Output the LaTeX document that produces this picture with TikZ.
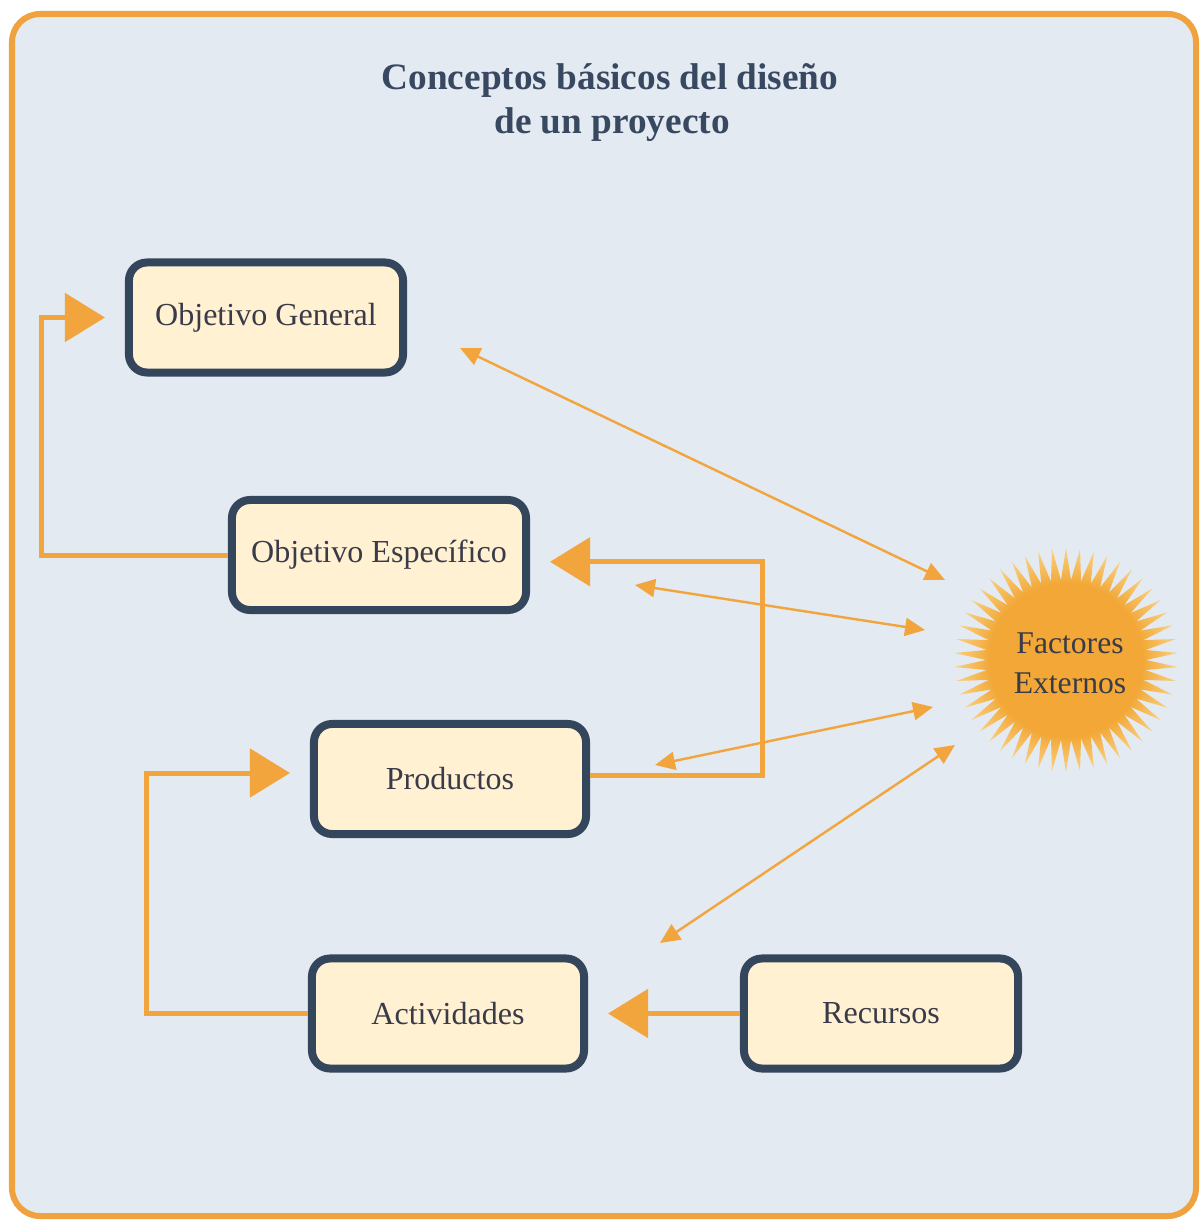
\documentclass[tikz,border=0pt]{standalone}
\usepackage{fontspec}
\setmainfont{Liberation Serif}
\usetikzlibrary{arrows.meta,shapes.geometric}
\definecolor{bgblue}{HTML}{E3EAF2}
\definecolor{frameor}{HTML}{F0A23E}
\definecolor{arrowor}{HTML}{F2A53C}
\definecolor{navy}{HTML}{34465C}
\definecolor{cream}{HTML}{FFF1D2}
\definecolor{txt}{HTML}{3A3B48}
\definecolor{titlec}{HTML}{384860}
\definecolor{sunA}{HTML}{F2A736}
\definecolor{sunB}{HTML}{FCDC96}
\pgfdeclareradialshading{sunshade}{\pgfpoint{0bp}{0bp}}{color(0bp)=(sunA); color(17bp)=(sunA); color(27bp)=(sunB); color(50bp)=(sunB)}
\begin{document}
\begin{tikzpicture}[x=0.025cm,y=-0.025cm,
  boxnode/.style={draw=navy, line width=0.2cm, fill=cream, rounded corners=0.45cm,
    minimum height=2.75cm, inner sep=0pt, text=txt,
    font=\fontsize{22.8}{27}\selectfont},
  bigarr/.style={draw=arrowor, line width=0.125cm,
    -{Triangle[length=1cm,width=1.2cm]}, shorten >=0.5cm},
  thinarr/.style={draw=arrowor, line width=0.06cm,
    {Triangle[length=0.5cm,width=0.45cm]}-{Triangle[length=0.5cm,width=0.45cm]}},
  titlenode/.style={text=titlec, font=\bfseries\fontsize{26.5}{32}\selectfont}
]
\useasboundingbox (0,0) rectangle (1200,1220);
\fill[white] (0,0) rectangle (1200,1220);
\draw[frameor, line width=0.15cm, fill=bgblue, rounded corners=0.7cm] (12,14) rectangle (1196,1216);

% title
\node[titlenode] (title1) at (610,80) {Conceptos básicos del diseño};
\node[titlenode] (title2) at (612,125) {de un proyecto};

% boxes
\node[boxnode, minimum width=6.85cm] (OG) at (266,317.5) {Objetivo General};
\node[boxnode, minimum width=7.35cm] (OE) at (379,555) {Objetivo Específico};
\node[boxnode, minimum width=6.8cm] (P) at (450,779) {Productos};
\node[boxnode, minimum width=6.8cm] (A) at (448,1013.5) {Actividades};
\node[boxnode, minimum width=6.85cm] (R) at (881,1013.5) {Recursos};

% sun
\node[star, star points=50, star point ratio=1.4, minimum size=5.6cm, inner sep=0pt,
  shade, shading=sunshade, draw=none] (sun) at (1066,660) {};
\node[text=txt, align=center, font=\fontsize{22.5}{28.5}\selectfont] (suntext) at (1070,663) {Factores\\Externos};

% big arrows
\draw[bigarr] (OE.west) -- ++(-186,0) |- (OG.west);
\draw[bigarr] ([yshift=0.1cm]P.east) -- ++(172,0) |- ([yshift=-0.17cm]OE.east);
\draw[bigarr] (A.west) -- ++(-161,0) |- ([yshift=0.15cm]P.west);
\draw[bigarr] (R.west) -- (A.east);

% thin double arrows
\coordinate (e1a) at (460,348);
\coordinate (e1b) at (945,580);
\coordinate (e2a) at (635,585);
\coordinate (e2b) at (925,630);
\coordinate (e3a) at (655,765);
\coordinate (e3b) at (933,707);
\coordinate (e4a) at (660,943);
\coordinate (e4b) at (955,745);
\draw[thinarr] (e1a) -- (e1b);
\draw[thinarr] (e2a) -- (e2b);
\draw[thinarr] (e3a) -- (e3b);
\draw[thinarr] (e4a) -- (e4b);
\end{tikzpicture}
\end{document}
